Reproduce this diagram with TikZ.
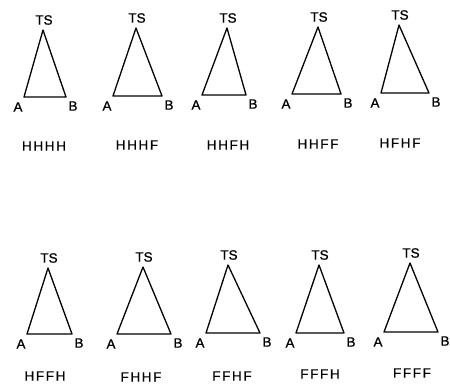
\documentclass[tikz,border=0pt]{standalone}
\usepackage{fontspec}
\setmainfont{Liberation Sans}[FakeBold=0.8]
\newfontfamily\cornfont[FakeBold=0.8]{Liberation Sans}
\newfontfamily\labfont[LetterSpace=12,FakeBold=0.6]{Liberation Sans}
\begin{document}
\begin{tikzpicture}[x=1pt,y=-1pt,
  tribox/.style={draw,line width=1.3pt,line join=round},
  cornerlab/.style={inner sep=0pt,font=\cornfont\fontsize{13.5}{13.5}\selectfont},
  namelab/.style={inner sep=0pt,font=\labfont\fontsize{13.5}{13.5}\selectfont}]
\useasboundingbox (0,0) rectangle (450,384);
\foreach \i/\tx/\ty/\ax/\ay/\bx/\by/\lab/\lx/\ly in {
  1/43/30/24/97/66/97/HHHH/44/146,
  2/136/28/113/96/162/96/HHHF/137/145,
  3/227/28/202/95/246/95/HHFH/228/145,
  4/318/27/292/94/341/94/HHFF/318/144,
  5/399/25/381/93/429/93/HFHF/400/143,
  6/48/268/27/334/72/334/HFFH/45/376,
  7/143/267/117/334/171/334/FHHF/141/377,
  8/228/265/206/333/260/333/FFHF/232/376,
  9/319/265/296/333/344/333/FFFH/320/374,
  10/410/263/384/332/438/332/FFFF/412/373}{
  \coordinate (t\i) at (\tx,\ty);
  \coordinate (a\i) at (\ax,\ay);
  \coordinate (b\i) at (\bx,\by);
  \draw[tribox] (t\i) -- (a\i) -- (b\i) -- cycle;
  \node[cornerlab] (ts\i) at ([shift={(1,-10)}]t\i) {TS};
  \node[cornerlab] (la\i) at ([shift={(-6,10)}]a\i) {A};
  \node[cornerlab] (lb\i) at ([shift={(7,9)}]b\i) {B};
  \node[namelab] (n\i) at (\lx,\ly) {\lab};
}
\end{tikzpicture}
\end{document}
